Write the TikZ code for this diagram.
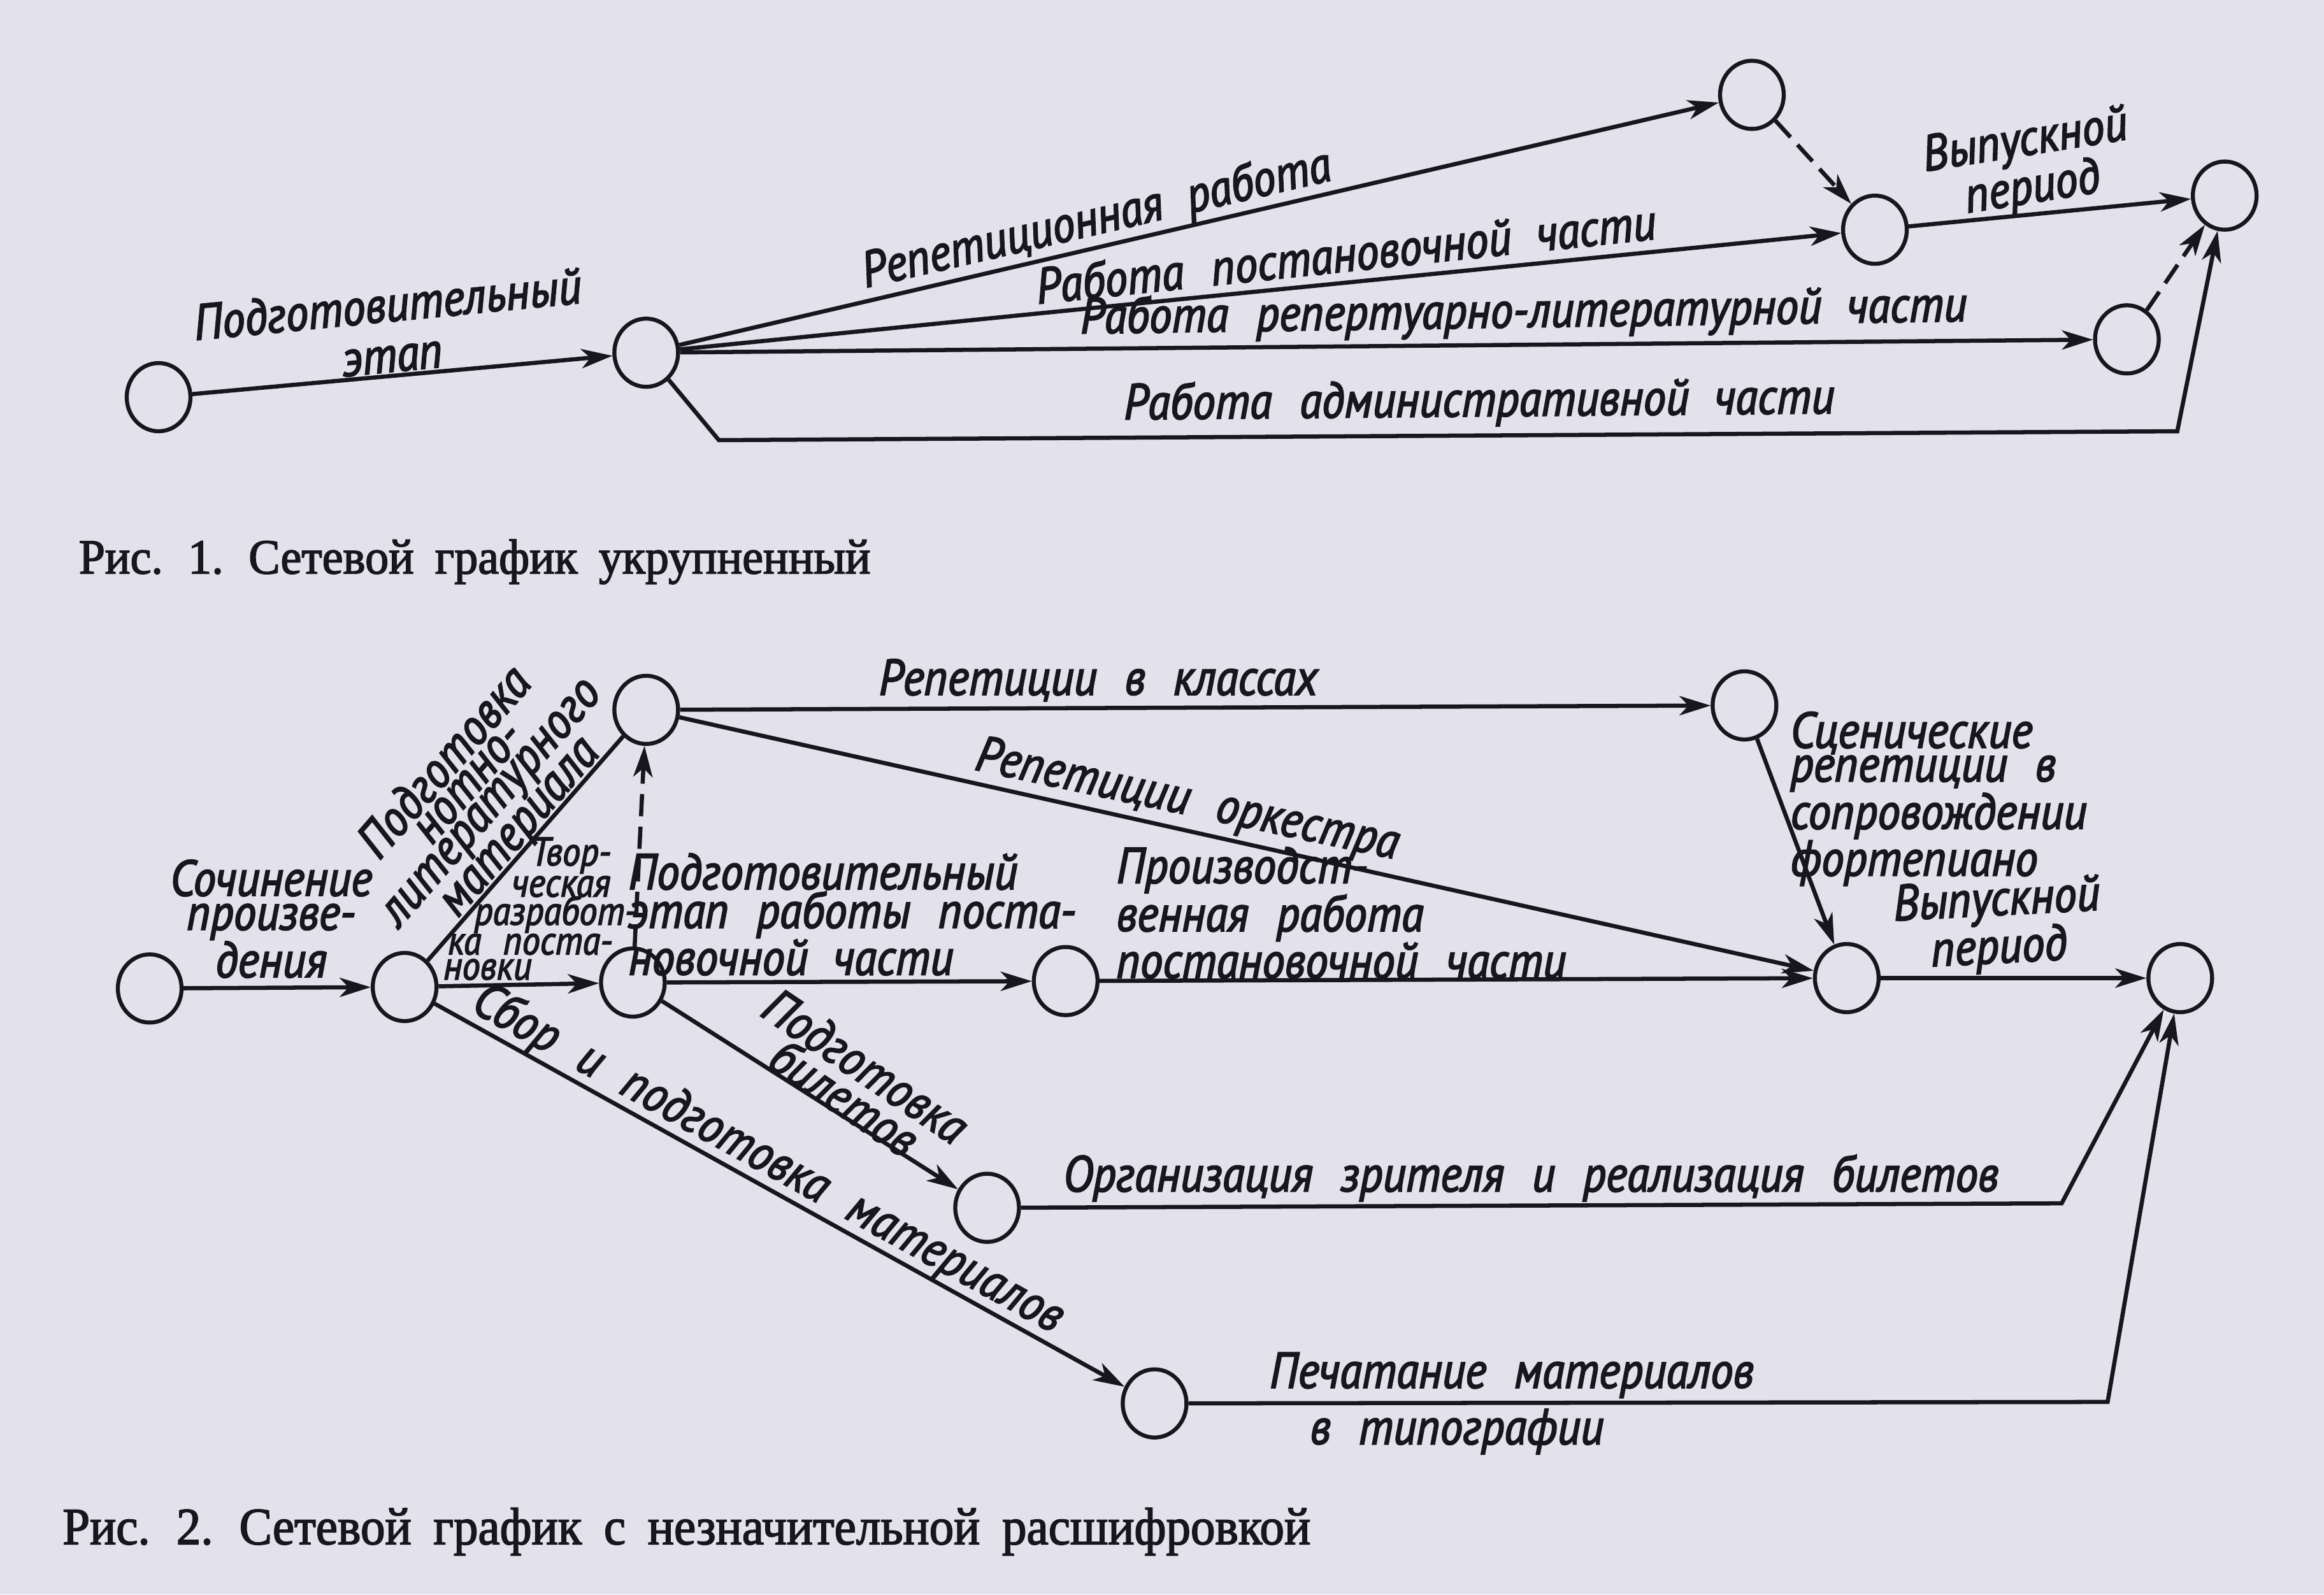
\documentclass[tikz,border=0pt]{standalone}
\usepackage{fontspec}
\usetikzlibrary{arrows.meta,shapes.geometric}
\newfontfamily\gost[FakeStretch=0.9,FakeBold=2.6,WordSpace=2.3]{PT Sans}
\newfontfamily\capfont[FakeBold=2.2,WordSpace=1.8]{Liberation Serif}
\definecolor{paper}{RGB}{226,225,236}
\definecolor{ink}{RGB}{22,22,28}
\begin{document}
\begin{tikzpicture}[x=1pt,y=-1pt,color=ink,
  ev/.style={ellipse,draw=ink,line width=2.7pt,minimum width=43pt,minimum height=46pt,inner sep=0pt},
  lineonly/.style={line width=2.8pt},
  arr/.style={line width=2.8pt,-{Stealth[length=21pt,width=13pt,inset=6pt]}},
  arrd/.style={arr,dash pattern=on 15pt off 7pt},
  lbig/.style={font=\gost\itshape\fontsize{34}{#1}\selectfont,inner sep=0pt,text=ink},
  lbig/.default=23,
  lsmall/.style={font=\gost\itshape\fontsize{27}{20}\selectfont,inner sep=0pt,text=ink},
  capt/.style={inner sep=0pt,anchor=base west,text=ink}]
\fill[paper] (0,0) rectangle (1568,1076);

% ---------- Fig. 1 ----------
\node[ev] (a1) at (107,268) {};
\node[ev] (a2) at (436,238) {};
\node[ev] (a3) at (1182,64) {};
\node[ev] (a4) at (1265,155) {};
\node[ev] (a5) at (1501,132) {};
\node[ev] (a6) at (1435,229) {};
\coordinate (p1) at (485,297);
\coordinate (p2) at (1469,291);

\draw[arr] (a1) -- (a2);
\draw[arr] (a2) -- (a3);
\draw[arr] (a2) -- (a4);
\draw[arr] (a2) -- (a6);
\draw[arr] (a2) -- (p1) -- (p2) -- (a5);
\draw[arrd] (a3) -- (a4);
\draw[arrd] (a6) -- (a5);
\draw[arr] (a4) -- (a5);

\node[lbig=34,rotate=5.5,align=center] (t1) at (263,222) {Подготовительный\\этап};
\node[lbig,rotate=13] (t2) at (740,149) {Репетиционная\enspace работа};
\node[lbig,rotate=6] (t3) at (908,171) {Работа постановочной\enspace части};
\node[lbig,rotate=0.8] (t4) at (1028,212) {Работа репертуарно-литературной\enspace части};
\node[lbig,rotate=0.5] (t5) at (998,272) {Работа административной\enspace части};
\node[lbig=25,rotate=9,align=center] (t6) at (1369,112) {Выпускной\\период};

\node[capt] (cap1) at (53,387) {\resizebox{534pt}{23pt}{\capfont Рис. 1. Сетевой график укрупненный}};

% ---------- Fig. 2 ----------
\node[ev] (b1) at (101,667) {};
\node[ev] (b2) at (273,666) {};
\node[ev] (b3) at (436,479) {};
\node[ev] (b4) at (427,663) {};
\node[ev] (b5) at (719,662) {};
\node[ev] (b6) at (1177,476) {};
\node[ev] (b7) at (1246,660) {};
\node[ev] (b8) at (1471,660) {};
\node[ev] (b9) at (666,815) {};
\node[ev] (b10) at (779,947) {};
\coordinate (q1) at (1391,812);
\coordinate (q2) at (1422,946);

\draw[arr] (b1) -- (b2);
\draw[lineonly] (b2) -- (b3);
\draw[arr] (b2) -- (b4);
\draw[arr] (b2) -- (b10);
\draw[arrd] (b4) -- (b3);
\draw[arr] (b3) -- (b6);
\draw[arr] (b3) -- (b7);
\draw[arr] (b4) -- (b5);
\draw[arr] (b4) -- (b9);
\draw[arr] (b5) -- (b7);
\draw[arr] (b6) -- (b7);
\draw[arr] (b7) -- (b8);
\draw[arr] (b9) -- (q1) -- (b8);
\draw[arr] (b10) -- (q2) -- (b8);

\node[lbig,align=center] (s1) at (183,620) {Сочинение\\произве-\\дения};
\node[lbig=20,rotate=49,align=center] (s2) at (326,537) {Подготовка\\нотно-\\литературного\\материала};
\node[lsmall,anchor=base west] (s3) at (358,584) {Твор-};
\node[lsmall,anchor=base west] (s4) at (345,605) {ческая};
\node[lsmall,anchor=base west] (s5) at (320,624) {разработ-};
\node[lsmall,anchor=base west] (s6) at (302,644) {ка поста-};
\node[lsmall,anchor=base west] (s7) at (299,661) {новки};
\node[lbig] (s8) at (741,459) {Репетиции в классах};
\node[lbig,rotate=-12] (s9) at (801,541) {Репетиции оркестра};
\node[lbig,rotate=-29] (s10) at (518,783) {Сбор и подготовка материалов};
\node[lbig=22,align=left] (s11) at (575,617) {Подготовительный\\этап работы поста-\\новочной\enspace части};
\node[lbig=23.5,rotate=-34,align=center] (s12) at (577,730) {Подготовка\\билетов};
\node[lbig=21,align=left] (s13) at (905,616) {Производст-\\венная работа\\постановочной части};
\node[lbig=19.5,align=left] (s14) at (1308,539) {Сценические\\репетиции в\\сопровождении\\фортепиано};
\node[lbig=24,rotate=3,align=center] (s15) at (1348,625) {Выпускной\\период};
\node[lbig] (s16) at (1033,795) {Организация зрителя и реализация билетов};
\node[lbig] (s17) at (1020,928) {Печатание материалов};
\node[lbig] (s18) at (983,966) {в типографии};

\node[capt] (cap2) at (42,1042) {\resizebox{842pt}{24.5pt}{\capfont Рис. 2. Сетевой график с незначительной расшифровкой}};
\end{tikzpicture}
\end{document}
